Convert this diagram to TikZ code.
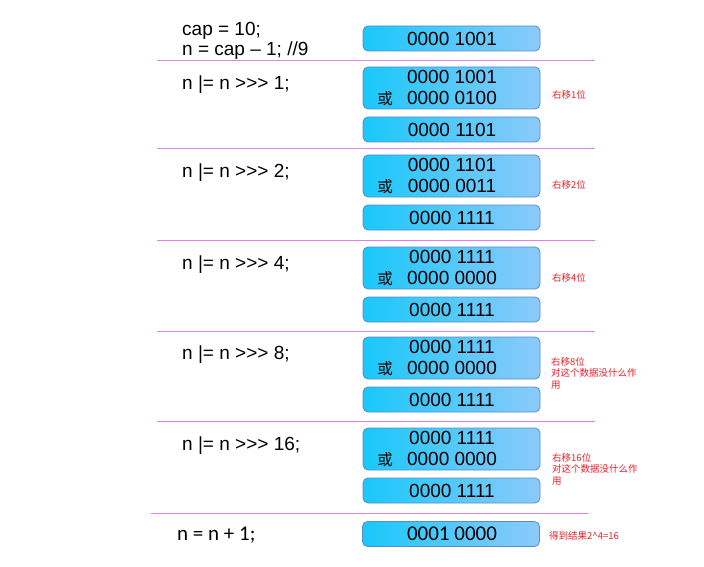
\documentclass[tikz,border=0pt]{standalone}
\usepackage{fontspec}
\setmainfont{Liberation Sans}
\newfontfamily\cjk{Noto Sans CJK SC}
\newfontfamily\calfont{Carlito}

\definecolor{boxleft}{RGB}{25,200,250}
\definecolor{boxright}{RGB}{140,202,250}
\definecolor{boxedge}{RGB}{90,140,200}
\definecolor{sepcolor}{RGB}{228,125,232}
\definecolor{notered}{RGB}{235,30,40}

\tikzset{
    bitbox/.style={draw=boxedge, line width=0.8pt, rounded corners=5pt,
        left color=boxleft, right color=boxright, minimum width=177pt, inner sep=0pt},
    bits/.style={inner sep=0pt, font=\fontsize{19}{22}\selectfont},
    code/.style={anchor=west, inner sep=0pt, font=\fontsize{19}{22}\selectfont},
    orsign/.style={inner sep=0pt, font=\cjk\fontsize{15.5}{18}\selectfont},
    note/.style={anchor=west, inner sep=0pt, align=left, text=notered,
        font=\cjk\fontsize{9.5}{11.5}\selectfont},
    sepline/.style={draw=sepcolor, line width=0.9pt}
}

\begin{document}
\begin{tikzpicture}[x=1pt, y=-1pt]
    \useasboundingbox (0, 0) rectangle (704, 567);

    % start value
    \node[code] (cap) at (182, 31) {cap = 10;};
    \node[code] (nval) at (182, 51) {n = cap -- 1; //9};
    \node[bitbox, minimum height=25pt] (b0) at (451.5, 38.5) {};
    \node[bits] (t0) at (452, 39) {0000 1001};
    \coordinate (s0a) at (157, 60);
    \coordinate (s0b) at (595, 60);
    \draw[sepline] (s0a) -- (s0b);

    % >>> 1
    \node[code] (c1) at (182, 85) {n |= n >{}>{}> 1;};
    \node[bitbox, minimum height=42pt] (a1) at (451.5, 88) {};
    \node[bits] (a1x) at (452, 77) {0000 1001};
    \node[bits] (a1y) at (452, 98) {0000 0100};
    \node[orsign] (o1) at (385, 99) {或};
    \node[bitbox, minimum height=25pt] (r1) at (451.5, 129.5) {};
    \node[bits] (r1t) at (452, 130) {0000 1101};
    \node[note] (n1) at (552, 95) {右移1位};
    \coordinate (s1a) at (157, 148);
    \coordinate (s1b) at (595, 148);
    \draw[sepline] (s1a) -- (s1b);

    % >>> 2
    \node[code] (c2) at (182, 173) {n |= n >{}>{}> 2;};
    \node[bitbox, minimum height=42pt] (a2) at (451.5, 176) {};
    \node[bits] (a2x) at (452, 165) {0000 1101};
    \node[bits] (a2y) at (452, 186) {0000 0011};
    \node[orsign] (o2) at (385, 187) {或};
    \node[bitbox, minimum height=25pt] (r2) at (451.5, 217.5) {};
    \node[bits] (r2t) at (452, 218) {0000 1111};
    \node[note] (n2) at (552, 185) {右移2位};
    \coordinate (s2a) at (157, 240);
    \coordinate (s2b) at (595, 240);
    \draw[sepline] (s2a) -- (s2b);

    % >>> 4
    \node[code] (c3) at (182, 265) {n |= n >{}>{}> 4;};
    \node[bitbox, minimum height=42pt] (a3) at (451.5, 268) {};
    \node[bits] (a3x) at (452, 257) {0000 1111};
    \node[bits] (a3y) at (452, 278) {0000 0000};
    \node[orsign] (o3) at (385, 279) {或};
    \node[bitbox, minimum height=25pt] (r3) at (451.5, 309.5) {};
    \node[bits] (r3t) at (452, 310) {0000 1111};
    \node[note] (n3) at (552, 278) {右移4位};
    \coordinate (s3a) at (157, 331);
    \coordinate (s3b) at (595, 331);
    \draw[sepline] (s3a) -- (s3b);

    % >>> 8
    \node[code] (c4) at (182, 355) {n |= n >{}>{}> 8;};
    \node[bitbox, minimum height=42pt] (a4) at (451.5, 358) {};
    \node[bits] (a4x) at (452, 347) {0000 1111};
    \node[bits] (a4y) at (452, 368) {0000 0000};
    \node[orsign] (o4) at (385, 369) {或};
    \node[bitbox, minimum height=25pt] (r4) at (451.5, 399.5) {};
    \node[bits] (r4t) at (452, 400) {0000 1111};
    \node[note] (n4) at (551, 373) {右移8位\\对这个数据没什么作\\用};
    \coordinate (s4a) at (157, 421);
    \coordinate (s4b) at (595, 421);
    \draw[sepline] (s4a) -- (s4b);

    % >>> 16
    \node[code] (c5) at (182, 446) {n |= n >{}>{}> 16;};
    \node[bitbox, minimum height=42pt] (a5) at (451.5, 449) {};
    \node[bits] (a5x) at (452, 438) {0000 1111};
    \node[bits] (a5y) at (452, 459) {0000 0000};
    \node[orsign] (o5) at (385, 460) {或};
    \node[bitbox, minimum height=25pt] (r5) at (451.5, 490.5) {};
    \node[bits] (r5t) at (452, 491) {0000 1111};
    \node[note] (n5) at (552, 469) {右移16位\\对这个数据没什么作\\用};
    \coordinate (s5a) at (151, 513);
    \coordinate (s5b) at (588, 513);
    \draw[sepline] (s5a) -- (s5b);

    % + 1
    \node[code, font=\calfont\fontsize{21}{24}\selectfont] (c6) at (177, 535) {n = n + 1;};
    \node[bitbox, minimum height=25pt] (r6) at (451, 534) {};
    \node[bits, font=\calfont\fontsize{21}{24}\selectfont] (r6t) at (452, 534) {0001 0000};
    \node[note] (n6) at (549, 536) {得到结果2\textasciicircum4=16};
\end{tikzpicture}
\end{document}
